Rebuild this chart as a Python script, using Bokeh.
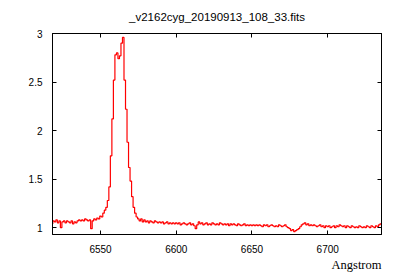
import numpy as np
from bokeh.plotting import figure
from bokeh.models import Range1d, FixedTicker, LinearAxis, Title, CustomLabelingPolicy
from bokeh.embed import file_html
from bokeh.resources import INLINE

title_text = "_v2162cyg_20190913_108_33.fits"
x_label = "Angstrom"
x_ticks = [6550, 6600, 6650, 6700]
x_tick_labels = ["6550", "6600", "6650", "6700"]
y_ticks = [1, 1.5, 2, 2.5, 3]
y_tick_labels = ["1", "1.5", "2", "2.5", "3"]

wl_start = 6518
wl_step = 1
flux = [
    1.04, 1.07, 1.06, 1.08, 1.05, 1.07, 1.00, 1.06, 1.07, 1.05,   # 6518-6527
    1.07, 1.06, 1.05, 1.07, 1.04, 1.06, 1.05, 1.07, 1.08, 1.07,   # 6528-6537
    1.08, 1.07, 1.09, 1.08, 1.07, 1.08, 0.99, 1.07, 1.09, 1.08,   # 6538-6547
    1.10, 1.09, 1.12, 1.11, 1.15, 1.18, 1.21, 1.28, 1.42, 1.74,   # 6548-6557
    2.12, 2.52, 2.78, 2.80, 2.74, 2.77, 2.90, 2.96, 2.52, 2.22,   # 6558-6567
    1.88, 1.62, 1.48, 1.32, 1.21, 1.15, 1.11, 1.09, 1.07, 1.09,   # 6568-6577
    1.06, 1.08, 1.06, 1.07, 1.05, 1.07, 1.06, 1.05, 1.07, 1.06,   # 6578-6587
    1.05, 1.06, 1.05, 1.06, 1.04, 1.05, 1.06, 1.04, 1.05, 1.04,   # 6588-6597
    1.05, 1.04, 1.05, 1.04, 1.05, 1.03, 1.04, 1.05, 1.04, 1.03,   # 6598-6607
    1.04, 1.05, 1.03, 1.04, 1.02, 0.99, 1.03, 1.06, 1.04, 1.05,   # 6608-6617
    1.03, 1.04, 1.05, 1.03, 1.04, 1.03, 1.05, 1.04, 1.03, 1.04,   # 6618-6627
    1.03, 1.05, 1.04, 1.03, 1.04, 1.03, 1.04, 1.02, 1.04, 1.03,   # 6628-6637
    1.04, 1.03, 1.02, 1.04, 1.03, 1.02, 1.03, 1.04, 1.02, 1.03,   # 6638-6647
    1.02, 1.03, 1.02, 1.03, 1.02, 1.03, 1.02, 1.03, 1.02, 1.01,   # 6648-6657
    1.03, 1.02, 1.03, 1.01, 1.02, 1.03, 1.02, 1.01, 1.02, 1.01,   # 6658-6667
    1.03, 1.02, 1.01, 1.02, 1.03, 1.01, 1.00, 0.99, 0.97, 0.98,   # 6668-6677
    0.96, 0.97, 0.98, 0.99, 1.01, 1.03, 1.04, 1.05, 1.03, 1.04,   # 6678-6687
    1.02, 1.03, 1.02, 1.03, 1.02, 1.01, 1.02, 1.03, 1.01, 1.02,   # 6688-6697
    1.00, 1.02, 1.01, 1.02, 1.00, 1.01, 1.02, 1.00, 1.02, 1.01,   # 6698-6707
    1.03, 1.02, 1.01, 1.02, 1.00, 1.02, 1.01, 1.00, 1.02, 1.01,   # 6708-6717
    1.00, 1.01, 1.00, 1.02, 1.01, 1.00, 1.01, 1.00, 1.02, 1.01,   # 6718-6727
    1.00, 1.02, 1.01, 1.00, 1.02, 1.01, 1.03, 1.04, 1.02,         # 6728-6736
]
wavelength = wl_start + wl_step * np.arange(len(flux))

FONT = "Liberation Sans"
SERIF = "Liberation Serif"

p = figure(width=400, height=280, output_backend="svg", toolbar_location=None,
           x_range=Range1d(6518.3, 6735.5), y_range=Range1d(0.93, 3.0),
           min_border_left=52, min_border_right=19, min_border_top=33,
           min_border_bottom=46)
p.background_fill_color = "white"
p.border_fill_color = "white"
p.outline_line_color = "black"
p.outline_line_width = 1
p.xgrid.visible = False
p.ygrid.visible = False

p.title.text = title_text
p.title.align = "center"
p.title.text_font = FONT
p.title.text_font_size = "11.5px"
p.title.text_font_style = "normal"
p.title.text_color = "black"
p.title.standoff = 0

def style_axis(ax, ticks, labels, show_labels=True):
    ax.ticker = FixedTicker(ticks=ticks)
    ax.major_label_overrides = {t: l for t, l in zip(ticks, labels)}
    ax.major_tick_in = 4
    ax.major_tick_out = 0
    ax.minor_tick_in = 0
    ax.minor_tick_out = 0
    ax.axis_line_color = "black"
    ax.major_tick_line_color = "black"
    ax.major_label_text_font = FONT
    ax.major_label_text_font_size = "10px"
    ax.major_label_text_color = "black"
    if not show_labels:
        ax.major_label_policy = CustomLabelingPolicy(code="return new Set()")
        ax.major_label_standoff = 0

style_axis(p.xaxis[0], x_ticks, x_tick_labels)
style_axis(p.yaxis[0], y_ticks, y_tick_labels)
p.xaxis[0].major_label_standoff = 10
p.xaxis[0].major_label_text_line_height = 0.8
p.yaxis[0].major_label_standoff = 10

top_ax = LinearAxis()
style_axis(top_ax, x_ticks, x_tick_labels, show_labels=False)
p.add_layout(top_ax, "above")
right_ax = LinearAxis()
style_axis(right_ax, y_ticks, y_tick_labels, show_labels=False)
p.add_layout(right_ax, "right")

xl = Title(text=x_label, align="right", text_font=SERIF, text_font_size="12.5px",
           text_font_style="normal", text_color="black", standoff=0,
           text_line_height=0.8)
p.add_layout(xl, "below")

p.step(wavelength, flux, mode="center", line_color="#ff0000", line_width=1.2)

open("out.html", "w").write(file_html(p, INLINE))
